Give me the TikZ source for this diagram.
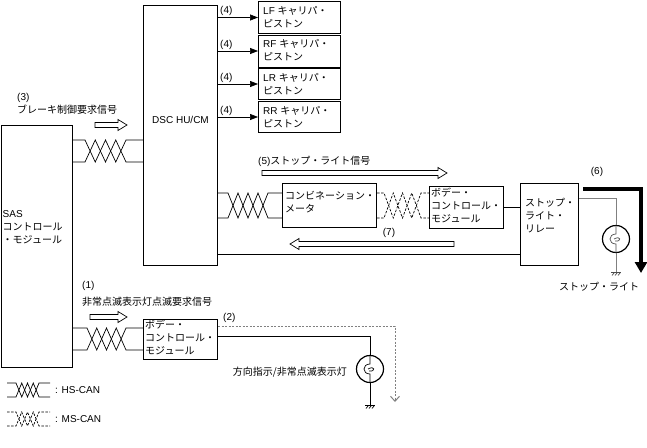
\documentclass[tikz,border=0pt]{standalone}
\usepackage{fontspec}
\usepackage{tikz}
\usetikzlibrary{arrows.meta}
\setmainfont{Liberation Sans}
\newfontfamily\jpfont{Noto Sans CJK JP}
\newcommand{\ja}[1]{{\jpfont #1}}

% twisted pair: [style]{from}{to}{upper y}{lower y}{twist start x}{twist end x}
\newcommand{\twisted}[7][]{%
    \pgfmathsetmacro{\pairstep}{(#7-#6)/4}
    \draw[wire, #1] (#2 |- 0,#4) -- (#6,#4) -- ++(\pairstep,#5-#4) -- ++(\pairstep,#4-#5) -- ++(\pairstep,#5-#4) -- (#7,#4) -- (#3 |- 0,#4);
    \draw[wire, #1] (#2 |- 0,#5) -- (#6,#5) -- ++(\pairstep,#4-#5) -- ++(\pairstep,#5-#4) -- ++(\pairstep,#4-#5) -- (#7,#5) -- (#3 |- 0,#5);
}
% hollow arrow: {tail x}{tip x}{y}
\newcommand{\hollowarrow}[3]{%
    \pgfmathsetmacro{\headbase}{#2>#1 ? #2-9 : #2+9}
    \draw[hollow] (#1,#3-2.5) -- (\headbase,#3-2.5) -- (\headbase,#3-5.5) -- (#2,#3) -- (\headbase,#3+5.5) -- (\headbase,#3+2.5) -- (#1,#3+2.5) -- cycle;
}

\tikzset{
    unit/.style={draw, line width=1pt, inner sep=0pt, anchor=north west},
    txt/.style={inner sep=0pt, align=left, anchor=north west, font=\fontsize{10}{13}\selectfont},
    lbl/.style={inner sep=0pt, anchor=base west, font=\fontsize{10}{13}\selectfont},
    wire/.style={line width=0.7pt},
    mscan/.style={dash pattern=on 2.5pt off 1.5pt},
    sig/.style={wire, -{Triangle[length=8pt,width=6pt]}},
    lamp/.style={draw, circle, line width=1.2pt, minimum size=27pt, inner sep=0pt},
    hollow/.style={line width=0.7pt},
    coil/.pic={
        \draw[wire] (0,-13.5) -- (0,-5) .. controls (-8,-5) and (-8,5) .. (0,5) -- (0,13.5);
        \draw[wire] (-2,0) .. controls (5,-4) and (6,3) .. (-1,2);
    },
    ground/.pic={
        \draw[wire] (-5,0) -- (5,0);
        \foreach \i in {-3,0,3} \draw[wire] (\i+1,1) -- (\i-1,3.5);
    }
}

\begin{document}
\begin{tikzpicture}[x=1pt, y=-1pt]
    \useasboundingbox (0,0) rectangle (647,447);

    % units
    \node[unit, minimum width=71.5pt, minimum height=242pt] (sas) at (0.5,125) {};
    \node[unit, minimum width=74pt, minimum height=260pt] (dsc) at (143,5) {};
    \node[unit, minimum width=82pt, minimum height=32pt] (lf) at (258,1) {};
    \node[unit, minimum width=82pt, minimum height=32pt] (rf) at (258,34.5) {};
    \node[unit, minimum width=82pt, minimum height=31pt] (lr) at (258,68) {};
    \node[unit, minimum width=82pt, minimum height=31pt] (rr) at (258,101) {};
    \node[unit, minimum width=94pt, minimum height=44pt] (meter) at (282,183) {};
    \node[unit, minimum width=74pt, minimum height=42pt] (bcm) at (429,186) {};
    \node[unit, minimum width=58pt, minimum height=82pt] (relay) at (520,183) {};
    \node[unit, minimum width=74pt, minimum height=40pt] (bcmb) at (143,319) {};

    \node[txt] (sastext) at ([shift={(2,85)}]sas.north west) {SAS\\\ja{コントロール}\\\ja{・モジュール}};
    \node[lbl, anchor=base] (dsctext) at (dsc.north |- 0,123.7) {DSC HU/CM};
    \node[txt] (lftext) at ([shift={(5,5)}]lf.north west) {LF \ja{キャリパ・}\\\ja{ピストン}};
    \node[txt] (rftext) at ([shift={(5,5)}]rf.north west) {RF \ja{キャリパ・}\\\ja{ピストン}};
    \node[txt] (lrtext) at ([shift={(5,5)}]lr.north west) {LR \ja{キャリパ・}\\\ja{ピストン}};
    \node[txt] (rrtext) at ([shift={(5,5)}]rr.north west) {RR \ja{キャリパ・}\\\ja{ピストン}};
    \node[txt] (metertext) at ([shift={(3,8)}]meter.north west) {\ja{コンビネーション・}\\\ja{メータ}};
    \node[txt] (bcmtext) at ([shift={(2,2)}]bcm.north west) {\ja{ボデー・}\\\ja{コントロール・}\\\ja{モジュール}};
    \node[txt] (relaytext) at ([shift={(5,15)}]relay.north west) {\ja{ストップ・}\\\ja{ライト・}\\\ja{リレー}};
    \node[txt] (bcmbtext) at ([shift={(2,1)}]bcmb.north west) {\ja{ボデー・}\\\ja{コントロール・}\\\ja{モジュール}};

    % CAN lines
    \twisted{sas.east}{dsc.west}{140}{162}{85}{126}
    \twisted{dsc.east}{meter.west}{193}{218}{228}{268}
    \twisted[mscan]{meter.east}{bcm.west}{193}{218}{384}{421}
    \twisted{sas.east}{bcmb.west}{328}{350}{87}{126}

    % caliper outputs
    \foreach \w in {lf,rf,lr,rr} {
        \draw[sig] (dsc.east |- \w.west) -- (\w.west);
        \node[lbl] (\w num) at ([shift={(-38,-4)}]\w.west) {(4)};
    }

    \draw[wire] (bcm.east) -- (relay.west |- bcm.east);
    \draw[wire] (dsc.east |- 0,254) -- (relay.west |- 0,254);

    % stop lights
    \coordinate (stopend) at (641,273);
    \draw[line width=4pt, -{Triangle[length=11pt,width=12pt]}] (relay.east |- 0,189) ++(4,0) -| (stopend);
    \node[lamp] (lampstop) at (616,239) {};
    \pic[gray!60!black] at (lampstop) {coil};
    \coordinate (gndstop) at (616,272);
    \draw[wire, gray] (relay.east |- 0,198) -| (lampstop.north);
    \draw[wire, gray] (lampstop.south) -- (gndstop);
    \pic[gray!60!black] at (gndstop) {ground};

    % hazard lights
    \node[lamp] (lampturn) at (370,369) {};
    \pic at (lampturn) {coil};
    \coordinate (gndturn) at (370,405);
    \draw[wire] (bcmb.east |- 0,336) -| (lampturn.north);
    \draw[wire] (lampturn.south) -- (gndturn);
    \pic at (gndturn) {ground};
    \coordinate (turnend) at (395,402);
    \draw[gray, line width=1pt, dash pattern=on 2pt off 1.5pt, -{Straight Barb[length=5pt,width=9pt]}] (bcmb.east |- 0,326) -| (turnend);

    % signal flow
    \hollowarrow{95}{127}{125}
    \hollowarrow{262}{447}{173}
    \hollowarrow{454}{290}{244}
    \hollowarrow{90}{127}{317}

    \node[lbl] (numthree) at (17,100.7) {(3)};
    \node[lbl] (brakereq) at (17,113.7) {\ja{ブレーキ制御要求信号}};
    \node[lbl] (stopsig) at (258,164.7) {(5)\ja{ストップ・ライト信号}};
    \node[lbl, anchor=base] (numseven) at (389,235) {(7)};
    \node[lbl, anchor=base] (numsix) at (597,174.7) {(6)};
    \node[lbl, anchor=base] (stoplight) at (599,290.7) {\ja{ストップ・ライト}};
    \node[lbl] (numone) at (82,288.7) {(1)};
    \node[lbl] (hazreq) at (82,305.7) {\ja{非常点滅表示灯点滅要求信号}};
    \node[lbl] (numtwo) at (223,320) {(2)};
    \node[lbl, anchor=base east] (turnlamp) at (347,375) {\ja{方向指示/非常点滅表示灯}};

    % legend
    \coordinate (hsL) at (7,383);
    \coordinate (hsR) at (50,383);
    \coordinate (msL) at (7,412);
    \coordinate (msR) at (50,412);
    \twisted{hsL}{hsR}{383}{397}{16}{39}
    \twisted[mscan]{msL}{msR}{412}{426}{16}{39}
    \node[lbl] (hstext) at (55,393.7) {: HS-CAN};
    \node[lbl] (mstext) at (55,422.7) {: MS-CAN};
\end{tikzpicture}
\end{document}
